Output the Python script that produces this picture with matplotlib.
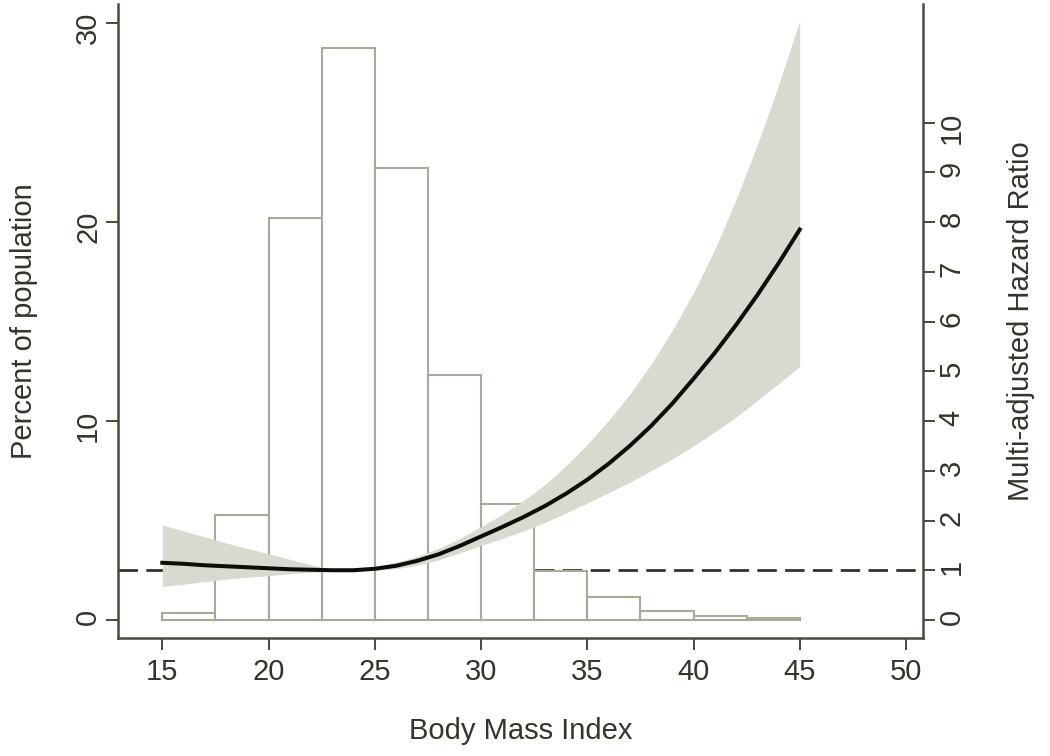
import matplotlib
matplotlib.use("Agg")
import matplotlib.pyplot as plt
import matplotlib.transforms as mtransforms
from matplotlib.lines import Line2D

plt.rcParams['font.family'] = ['Liberation Sans', 'DejaVu Sans']
fs = 21

# ---- data -------------------------------------------------------------
bin_left = [15, 17.5, 20, 22.5, 25, 27.5, 30, 32.5, 35, 37.5, 40, 42.5]
bin_width = 2.5
percent = [0.37, 5.3, 20.2, 28.75, 22.73, 12.3, 5.85, 2.48, 1.15, 0.45, 0.18, 0.08]

bmi = [15, 16, 17, 18, 19, 20, 21, 22, 23, 24, 25, 26, 27, 28, 29, 30,
       31, 32, 33, 34, 35, 36, 37, 38, 39, 40, 41, 42, 43, 44, 45]
hr = [1.15, 1.13, 1.10, 1.08, 1.06, 1.04, 1.02, 1.01, 1.00, 1.00, 1.03,
      1.09, 1.19, 1.32, 1.49, 1.68, 1.87, 2.07, 2.29, 2.54, 2.82, 3.14,
      3.50, 3.90, 4.35, 4.85, 5.37, 5.93, 6.53, 7.17, 7.85]
hr_upper = [1.91, 1.79, 1.67, 1.55, 1.44, 1.33, 1.22, 1.11, 1.02, 1.01, 1.07,
            1.16, 1.28, 1.44, 1.64, 1.88, 2.12, 2.40, 2.72, 3.10, 3.53, 4.01,
            4.54, 5.14, 5.82, 6.58, 7.45, 8.45, 9.55, 10.75, 12.05]
hr_lower = [0.67, 0.72, 0.77, 0.82, 0.86, 0.89, 0.93, 0.96, 0.98, 0.99, 1.00,
            1.03, 1.10, 1.21, 1.35, 1.50, 1.64, 1.79, 1.96, 2.15, 2.35, 2.56,
            2.77, 3.00, 3.24, 3.50, 3.78, 4.08, 4.41, 4.75, 5.10]
hr_ref = 1.0

x_ticks = [15, 20, 25, 30, 35, 40, 45, 50]
pct_ticks = [0, 10, 20, 30]
hr_ticks = [0, 1, 2, 3, 4, 5, 6, 7, 8, 9, 10]

# ---- style ------------------------------------------------------------
axis_col = '#4a4a3a'
text_col = '#34342a'
bar_edge = '#a9a998'
band_col = '#d9d9d0'

fig = plt.figure(figsize=(10.5, 7.56), dpi=100)
ax = fig.add_axes([118 / 1050, 1 - 638 / 756, (923 - 118) / 1050, (638 - 4) / 756])
ax.set_xlim(12.915, 50.8)
pct_lim = (-0.905, 30.96)
ax.set_ylim(*pct_lim)
axr = ax.twinx()
axr.set_ylim(pct_lim[0] / 2.5, pct_lim[1] / 2.5)

# reference line (HR = 1) drawn beneath the bars
trans = mtransforms.blended_transform_factory(ax.transAxes, axr.transData)
ax.add_line(Line2D([0, 1], [hr_ref, hr_ref], transform=trans, color='#33332a',
                   lw=2.0, dashes=(7, 3), zorder=1))

ax.bar(bin_left, percent, width=bin_width, align='edge', facecolor='white',
       edgecolor=bar_edge, linewidth=1.5, zorder=2)

axr.fill_between(bmi, hr_lower, hr_upper, color=band_col, lw=0, zorder=1)
axr.plot(bmi, hr, color='#0e0e08', lw=2.9, zorder=3, solid_joinstyle='round')

for a in (ax, axr):
    a.spines['top'].set_visible(False)
    for s in a.spines.values():
        s.set_color(axis_col)
        s.set_linewidth(1.8)
axr.spines['left'].set_visible(False)
axr.spines['bottom'].set_visible(False)
ax.spines['right'].set_visible(False)

ax.set_xticks(x_ticks)
ax.set_yticks(pct_ticks)
axr.set_yticks(hr_ticks)
for a in (ax, axr):
    a.tick_params(direction='out', length=8.5, width=1.4, color=axis_col,
                  labelcolor=text_col, labelsize=fs)
ax.tick_params(axis='x', pad=6)
ax.tick_params(axis='y', labelrotation=90, pad=3)
axr.tick_params(axis='y', labelrotation=90, pad=2)

ax.set_xlabel('Body Mass Index', fontsize=fs, color=text_col, labelpad=22)
ax.set_ylabel('Percent of population', fontsize=fs, color=text_col, labelpad=26)
axr.set_ylabel('Multi-adjusted Hazard Ratio', fontsize=fs, color=text_col, labelpad=30)

fig.savefig('out.png', dpi=100, facecolor='white')
